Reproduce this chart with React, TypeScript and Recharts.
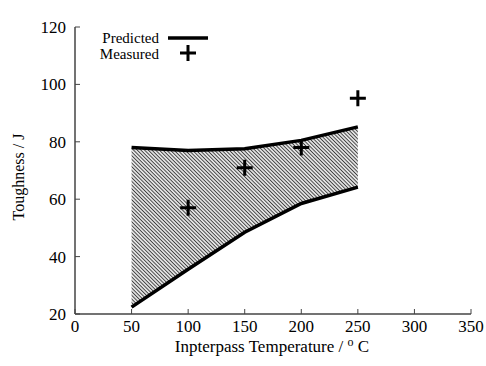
import React from 'react'
import {
  ComposedChart,
  Area,
  Line,
  Scatter,
  XAxis,
  YAxis,
} from 'recharts'

// interpass temperature (°C) where the prediction band is given
const temps = [50, 100, 150, 200, 250]
const predictedHigh = [78, 77, 77.6, 80.5, 85.2]
const predictedLow = [22.4, 35.6, 48.5, 58.5, 64.2]

// measured toughness
const measuredTemps = [100, 150, 200, 250]
const measuredToughness = [57, 71, 78, 95.2]

const xTicks = [0, 50, 100, 150, 200, 250, 300, 350]
const yTicks = [20, 40, 60, 80, 100, 120]

const FONT = '"Liberation Serif", "DejaVu Serif", serif'
const FRAME = '#444'

const bandData = temps.map((t, i) => ({
  temp: t,
  high: predictedHigh[i],
  low: predictedLow[i],
  band: [predictedLow[i], predictedHigh[i]],
}))

const measuredData = measuredTemps.map((t, i) => ({
  temp: t,
  toughness: measuredToughness[i],
}))

function BottomTick({ x, y, payload }: any) {
  return (
    <g>
      <line x1={x} x2={x} y1={y} y2={y - 5} stroke={FRAME} />
      <text x={x} y={y + 18} textAnchor="middle" fontSize={17} fontFamily={FONT} fill="#000">
        {payload.value}
      </text>
    </g>
  )
}

function LeftTick({ x, y, payload }: any) {
  return (
    <g>
      <line x1={x} x2={x + 5} y1={y} y2={y} stroke={FRAME} />
      <text x={x - 9} y={y + 6} textAnchor="end" fontSize={17} fontFamily={FONT} fill="#000">
        {payload.value}
      </text>
    </g>
  )
}

function TopTick({ x, y }: any) {
  return <line x1={x} x2={x} y1={y} y2={y + 5} stroke={FRAME} />
}

function RightTick({ x, y }: any) {
  return <line x1={x} x2={x - 5} y1={y} y2={y} stroke={FRAME} />
}

function Plus({ cx, cy }: any) {
  if (cx == null || cy == null) return null
  return (
    <path
      d={`M${cx - 8},${cy}H${cx + 8}M${cx},${cy - 8}V${cy + 8}`}
      stroke="#000"
      strokeWidth={3}
    />
  )
}

export default function App() {
  return (
    <div style={{ position: 'absolute', left: 0, top: 0, width: 486, height: 366, background: '#fff' }}>
      <ComposedChart
        width={486}
        height={366}
        data={bandData}
        margin={{ top: 27, right: 15, left: 0, bottom: 0 }}
      >
        <defs>
          <pattern
            id="hatch"
            width="2.6"
            height="2.6"
            patternUnits="userSpaceOnUse"
            patternTransform="rotate(45)"
          >
            <rect width="2.6" height="2.6" fill="#e2e2e2" />
            <line x1="0" y1="1.3" x2="2.6" y2="1.3" stroke="#111" strokeWidth={0.7} />
          </pattern>
        </defs>
        <XAxis
          dataKey="temp"
          type="number"
          domain={[0, 350]}
          ticks={xTicks}
          height={52}
          tickSize={0}
          tickMargin={0}
          tickLine={false}
          axisLine={{ stroke: FRAME, strokeWidth: 1.5 }}
          tick={<BottomTick />}
          interval={0}
        />
        <XAxis
          xAxisId="top"
          orientation="top"
          type="number"
          domain={[0, 350]}
          ticks={xTicks}
          height={0}
          tickSize={0}
          tickMargin={0}
          tickLine={false}
          axisLine={{ stroke: FRAME, strokeWidth: 1.5 }}
          tick={<TopTick />}
          interval={0}
        />
        <YAxis
          type="number"
          domain={[20, 120]}
          ticks={yTicks}
          width={75}
          tickSize={0}
          tickMargin={0}
          tickLine={false}
          axisLine={{ stroke: FRAME, strokeWidth: 1.5 }}
          tick={<LeftTick />}
          interval={0}
        />
        <YAxis
          yAxisId="right"
          orientation="right"
          type="number"
          domain={[20, 120]}
          ticks={yTicks}
          width={0}
          tickSize={0}
          tickMargin={0}
          tickLine={false}
          axisLine={{ stroke: FRAME, strokeWidth: 1.5 }}
          tick={<RightTick />}
          interval={0}
        />
        <Area
          dataKey="band"
          type="linear"
          stroke="none"
          fill="url(#hatch)"
          fillOpacity={1}
          isAnimationActive={false}
        />
        <Line dataKey="high" type="linear" stroke="#000" strokeWidth={3.5} dot={false} isAnimationActive={false} />
        <Line dataKey="low" type="linear" stroke="#000" strokeWidth={3.5} dot={false} isAnimationActive={false} />
        <Scatter
          data={measuredData}
          dataKey="toughness"
          shape={<Plus />}
          isAnimationActive={false}
        />
        <text
          x={18}
          y={177}
          transform="rotate(-90 18 177)"
          textAnchor="middle"
          dominantBaseline="central"
          fontSize={16}
          fontFamily={FONT}
          fill="#000"
        >
          Toughness / J
        </text>
        <text x={272} y={352} textAnchor="middle" fontSize={17} fontFamily={FONT} fill="#000">
          Inpterpass Temperature /{' '}
          <tspan fontSize={12} dy={-6}>o</tspan>
          <tspan dy={6}> C</tspan>
        </text>
        {/* legend */}
        <g fontFamily={FONT} fontSize={15} fill="#000">
          <text x={159} y={43} textAnchor="end">Predicted</text>
          <line x1={168} x2={208} y1={38} y2={38} stroke="#000" strokeWidth={3.5} />
          <text x={159} y={59} textAnchor="end">Measured</text>
          <path d="M180,53H196M188,45V61" stroke="#000" strokeWidth={3} />
        </g>
      </ComposedChart>
    </div>
  )
}
